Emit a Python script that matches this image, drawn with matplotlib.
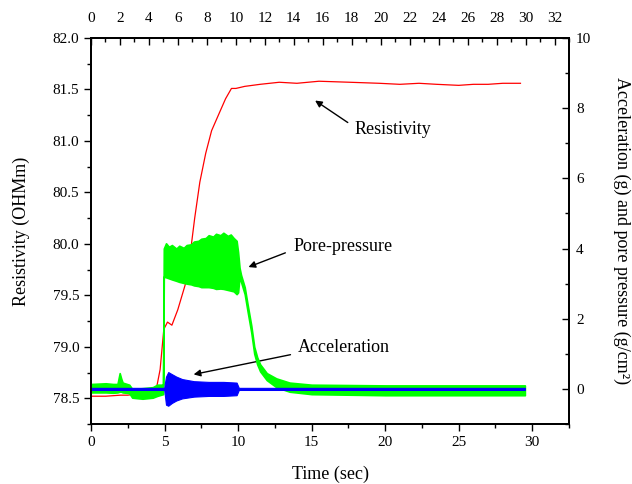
import numpy as np
import matplotlib.pyplot as plt
from matplotlib.ticker import MultipleLocator

# resistivity (left axis, OHMm)
res_t = [0, 1, 2, 2.5, 3.5, 4.4, 4.7, 4.95, 5.2, 5.5, 5.9, 6.4, 6.7, 7.05, 7.4, 7.8,
         8.2, 8.75, 9.15, 9.55, 9.85, 10.45, 11.5, 12.8, 14.0, 15.5, 17.6, 19.6,
         21.0, 22.3, 23.5, 25.0, 26.0, 27.0, 28.0, 29.2]
res_v = [78.52, 78.52, 78.53, 78.53, 78.55, 78.56, 78.78, 79.17, 79.24, 79.21, 79.36, 79.6,
         79.85, 80.25, 80.6, 80.88, 81.1, 81.28, 81.41, 81.51, 81.51, 81.53, 81.55, 81.57,
         81.56, 81.58, 81.57, 81.56, 81.55, 81.56, 81.55, 81.54, 81.55, 81.55, 81.56, 81.56]

# pore pressure envelope (right axis)
pp_t = [0, 0.5, 1.0, 1.5, 1.8, 1.95, 2.05, 2.15, 2.6, 2.8, 3.5, 4.2, 4.5, 4.9,
        4.95, 5.1, 5.3, 5.5, 5.8, 6.0, 6.3, 6.5, 6.8, 7.0, 7.3, 7.5, 7.8, 8.0, 8.3, 8.5,
        8.8, 9.0, 9.3, 9.5, 9.7, 9.9, 10.0,
        10.1, 10.2, 10.45, 10.65, 10.9, 11.1, 11.3, 11.5, 11.95, 12.6, 13.5, 15, 20, 25, 29.5]
pp_hi = [0.14, 0.15, 0.16, 0.14, 0.14, 0.45, 0.3, 0.18, 0.12, 0.0, 0.02, 0.05, 0.12, 0.12,
         4.0, 4.15, 4.05, 4.1, 4.0, 4.08, 4.02, 4.1, 4.12, 4.2, 4.22, 4.28, 4.3, 4.38, 4.34, 4.42,
         4.38, 4.45, 4.36, 4.4, 4.3, 4.22, 3.9,
         3.45, 3.25, 2.9, 2.4, 1.8, 1.2, 0.9, 0.7, 0.45, 0.3, 0.18, 0.12, 0.1, 0.1, 0.1]
pp_lo = [-0.1, -0.1, -0.1, -0.11, -0.1, -0.08, -0.08, -0.1, -0.12, -0.25, -0.28, -0.25, -0.2, -0.15,
         3.2, 3.18, 3.15, 3.12, 3.08, 3.05, 3.02, 3.0, 2.98, 2.95, 2.93, 2.9, 2.9, 2.9, 2.88, 2.85,
         2.86, 2.85, 2.82, 2.8, 2.78, 2.7, 2.75,
         3.2, 3.05, 2.7, 2.2, 1.6, 1.0, 0.7, 0.5, 0.25, 0.05, -0.08, -0.15, -0.18, -0.18, -0.18]

# acceleration envelope (right axis)
acc_t = [0, 4.98, 5.0, 5.1, 5.25, 5.5, 5.8, 6.2, 7.0, 8.0, 9.0, 9.9, 10.05, 29.5]
acc_hi = [0.03, 0.03, 0.1, 0.35, 0.48, 0.42, 0.35, 0.28, 0.22, 0.2, 0.2, 0.18, 0.03, 0.03]
acc_lo = [-0.03, -0.03, -0.1, -0.45, -0.48, -0.4, -0.33, -0.27, -0.22, -0.2, -0.2, -0.18, -0.03, -0.03]

plt.rcParams['font.family'] = ['Liberation Serif', 'DejaVu Serif']

fig = plt.figure(figsize=(6.32, 4.84), dpi=100)
ax = fig.add_axes([91 / 632, 1 - 424 / 484, 478 / 632, 386 / 484])

ax.plot(res_t, res_v, color='red', lw=0.9)
ax.set_xlim(0, 32.5)
ax.set_ylim(78.25, 82.0)
ax.xaxis.set_major_locator(MultipleLocator(5))
ax.xaxis.set_minor_locator(MultipleLocator(2.5))
ax.yaxis.set_major_locator(MultipleLocator(0.5))
ax.yaxis.set_minor_locator(MultipleLocator(0.25))
ax.yaxis.set_major_formatter(plt.FormatStrFormatter('%.1f'))
ax.tick_params(which='both', direction='out', labelsize=11, width=1)
ax.tick_params(which='major', length=5)
ax.tick_params(which='minor', length=3)
ax.set_xlabel('Time (sec)', fontsize=13, labelpad=12)
ax.set_ylabel('Resistivity (OHMm)', fontsize=13, labelpad=16)

ax2 = ax.twinx()
ax2.fill_between(pp_t, pp_lo, pp_hi, color='#00ff00', lw=1.2, edgecolor='#00ff00')
ax2.fill_between(acc_t, acc_lo, acc_hi, color='#0000ff', lw=0.8, edgecolor='#0000ff')
ax2.set_ylim(-1, 10)
ax2.yaxis.set_major_locator(MultipleLocator(2))
ax2.yaxis.set_minor_locator(MultipleLocator(1))
ax2.tick_params(which='both', direction='in', labelsize=11, width=1, pad=5)
ax2.tick_params(which='major', length=5)
ax2.tick_params(which='minor', length=3)
ax2.set_ylabel('Acceleration (g) and pore pressure (g/cm²)', fontsize=13,
               rotation=-90, labelpad=28)

ax3 = ax.twiny()
ax3.set_xlim(0, 33)
ax3.xaxis.set_major_locator(MultipleLocator(2))
ax3.xaxis.set_minor_locator(MultipleLocator(1))
ax3.tick_params(which='both', direction='in', labelsize=11, width=1, pad=9)
ax3.tick_params(which='major', length=5)
ax3.tick_params(which='minor', length=3)

for a in (ax, ax2, ax3):
    for s in a.spines.values():
        s.set_linewidth(1.2)

arrow = dict(arrowstyle='-|>', color='black', lw=1, mutation_scale=10)
ax.annotate('', xy=(0.464, 0.842), xytext=(0.542, 0.777), xycoords='axes fraction',
            textcoords='axes fraction', arrowprops=arrow)
ax.text(0.552, 0.762, 'Resistivity', transform=ax.transAxes, fontsize=13, va='center')
ax.annotate('', xy=(0.324, 0.404), xytext=(0.412, 0.446), xycoords='axes fraction',
            textcoords='axes fraction', arrowprops=arrow)
ax.text(0.423, 0.461, 'Pore-pressure', transform=ax.transAxes, fontsize=13, va='center')
ax.annotate('', xy=(0.209, 0.127), xytext=(0.423, 0.181), xycoords='axes fraction',
            textcoords='axes fraction', arrowprops=arrow)
ax.text(0.433, 0.197, 'Acceleration', transform=ax.transAxes, fontsize=13, va='center')

fig.savefig('out.png', dpi=100)
